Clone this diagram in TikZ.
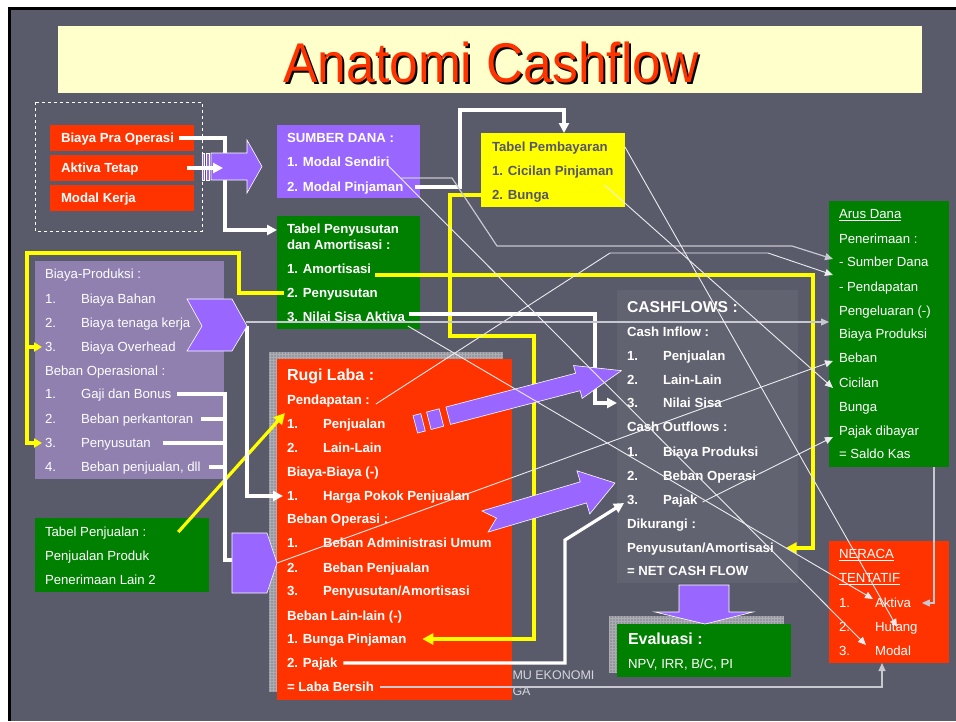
\documentclass[tikz,border=0pt]{standalone}
\usepackage{fontspec}
\setmainfont{Liberation Sans}
\usetikzlibrary{arrows.meta}

\definecolor{slidebg}{RGB}{89,90,106}
\definecolor{boxred}{RGB}{255,51,0}
\definecolor{boxpurple}{RGB}{153,102,255}
\definecolor{boxgreen}{RGB}{0,128,0}
\definecolor{boxyellow}{RGB}{255,255,0}
\definecolor{lavender}{RGB}{143,128,176}
\definecolor{titlefill}{RGB}{255,255,204}
\definecolor{cfbox}{RGB}{98,99,113}
\definecolor{pembtext}{RGB}{86,86,108}
\definecolor{framegray}{RGB}{150,150,158}
\definecolor{framegrid}{RGB}{172,172,180}
\definecolor{thinline}{RGB}{236,236,240}
\definecolor{greyline}{RGB}{200,200,208}
\definecolor{cftext}{RGB}{242,242,242}
\definecolor{footertext}{RGB}{214,214,222}

\newcommand{\cfTitleText}{\scalebox{0.92}[1]{\fontsize{56}{64}\selectfont Anatomi Cashflow}}

\tikzset{
  lbl/.style={anchor=west, inner sep=0pt, outer sep=0pt, text height=9.5pt, text depth=0.5pt,
              text=white, font=\fontsize{13.2}{15}\selectfont},
  blbl/.style={lbl, font=\fontsize{13.2}{15}\selectfont\bfseries},
  hlbl/.style={lbl, text height=11.5pt, text depth=0pt, font=\fontsize{16}{18}\selectfont\bfseries},
  panel/.style={anchor=north west, inner sep=0pt, outer sep=0pt},
  pshape/.style={fill=boxpurple, draw=white, line width=0.6pt},
  wline/.style={draw=white, line width=3.2pt},
  wlink/.style={wline, -{Triangle[length=10pt,width=10pt]}},
  yline/.style={draw=boxyellow, line width=3.2pt},
  ylink/.style={yline, -{Triangle[length=11pt,width=11pt]}},
  ylinks/.style={yline, -{Triangle[length=8pt,width=9pt]}},
  tlink/.style={draw=thinline, line width=0.9pt, -{Triangle[length=8pt,width=7pt]}},
  glink/.style={draw=greyline, line width=1.2pt, -{Triangle[length=8pt,width=7pt]}},
}

\begin{document}
\begin{tikzpicture}[x=1pt,y=-1pt]
\useasboundingbox (0,0) rectangle (956,721);

% slide background
\fill[white] (0,0) rectangle (956,721);
\fill[black] (8,7) rectangle (956,721);
\fill[slidebg] (11,10) rectangle (956,721);

% title bar
\fill[titlefill] (58,26) rectangle (922,93);
\node[anchor=base, inner sep=0pt, text=black] (titleShadow) at (493,84) {\cfTitleText};
\node[anchor=base, inner sep=0pt, text=boxred] (title) at (491,82) {\cfTitleText};

% investment group
\draw[white, line width=0.8pt, dash pattern=on 3pt off 3pt] (35,102) rectangle (202,231);
\node[panel, fill=boxred, minimum width=144pt, minimum height=26pt] (bpoBox) at (50,125) {};
\node[panel, fill=boxred, minimum width=144pt, minimum height=26pt] (atBox) at (50,155) {};
\node[panel, fill=boxred, minimum width=144pt, minimum height=26pt] (mkBox) at (50,185) {};
\node[blbl] (bpoT) at (61,138) {Biaya Pra Operasi};
\node[blbl] (atT) at (61,168) {Aktiva Tetap};
\node[blbl] (mkT) at (61,198) {Modal Kerja};

% sumber dana
\node[panel, fill=boxpurple, minimum width=143pt, minimum height=73pt] (sdBox) at (277,125) {};
\node[blbl] (sd0) at (287,138) {SUMBER DANA :};
\node[blbl] (sd1) at (287,162) {1. Modal Sendiri};
\node[blbl] (sd2) at (287,187) {2. Modal Pinjaman};

% tabel pembayaran
\node[panel, fill=boxyellow, minimum width=144pt, minimum height=74pt] (pbBox) at (481,133) {};
\node[blbl, text=pembtext] (pb0) at (492,147) {Tabel Pembayaran};
\node[blbl, text=pembtext] (pb1) at (492,171) {1. Cicilan Pinjaman};
\node[blbl, text=pembtext] (pb2) at (492,195) {2. Bunga};

% tabel penyusutan
\node[panel, fill=boxgreen, minimum width=143pt, minimum height=113pt] (tpBox) at (277,216) {};
\node[blbl] (tp0) at (287,229) {Tabel Penyusutan};
\node[blbl] (tp1) at (287,245) {dan Amortisasi :};
\node[blbl] (tp3) at (287,269) {1. Amortisasi};
\node[blbl] (tp4) at (287,293) {2. Penyusutan};
\node[blbl] (tp5) at (287,317) {3. Nilai Sisa Aktiva};

% biaya produksi / beban operasional
\node[panel, fill=lavender, minimum width=189pt, minimum height=218pt] (bpBox) at (35,261) {};
\node[lbl] (bp0) at (45,274) {Biaya-Produksi :};
\node[lbl] (bp1n) at (45,299) {1.};  \node[lbl] (bp1) at (81,299) {Biaya Bahan};
\node[lbl] (bp2n) at (45,323) {2.};  \node[lbl] (bp2) at (81,323) {Biaya tenaga kerja};
\node[lbl] (bp3n) at (45,347) {3.};  \node[lbl] (bp3) at (81,347) {Biaya Overhead};
\node[lbl] (bo0) at (45,371) {Beban Operasional :};
\node[lbl] (bo1n) at (45,394) {1.};  \node[lbl] (bo1) at (81,394) {Gaji dan Bonus};
\node[lbl] (bo2n) at (45,419) {2.};  \node[lbl] (bo2) at (81,419) {Beban perkantoran};
\node[lbl] (bo3n) at (45,443) {3.};  \node[lbl] (bo3) at (81,443) {Penyusutan};
\node[lbl] (bo4n) at (45,467) {4.};  \node[lbl] (bo4) at (81,467) {Beban penjualan, dll};

% tabel penjualan
\node[panel, fill=boxgreen, minimum width=174pt, minimum height=74pt] (tjBox) at (35,518) {};
\node[lbl] (tj0) at (45,532) {Tabel Penjualan :};
\node[lbl] (tj1) at (45,556) {Penjualan Produk};
\node[lbl] (tj2) at (45,580) {Penerimaan Lain 2};

% footer
\node[lbl, text=footertext, font=\fontsize{12.5}{14}\selectfont] (foot1) at (512.5,675) {MU EKONOMI};
\node[lbl, text=footertext, font=\fontsize{12.5}{14}\selectfont] (foot2) at (512.5,691) {GA};

% rugi laba
\fill[framegray] (269,352) rectangle (503,692);
\draw[framegrid, line width=0.4pt, step=3pt] (269,352) grid (503,692);
\node[panel, fill=boxred, minimum width=235pt, minimum height=341pt] (rlBox) at (277,359) {};
\node[hlbl] (rl0) at (287,375) {Rugi Laba :};
\node[blbl] (rl1) at (287,400) {Pendapatan :};
\node[blbl] (rl2n) at (287,424) {1.};  \node[blbl] (rl2) at (323,424) {Penjualan};
\node[blbl] (rl3n) at (287,448) {2.};  \node[blbl] (rl3) at (323,448) {Lain-Lain};
\node[blbl] (rl4) at (287,472) {Biaya-Biaya (-)};
\node[blbl] (rl5n) at (287,496) {1.};  \node[blbl] (rl5) at (323,496) {Harga Pokok Penjualan};
\node[blbl] (rl6) at (287,519) {Beban Operasi :};
\node[blbl] (rl7n) at (287,543) {1.};  \node[blbl] (rl7) at (323,543) {Beban Administrasi Umum};
\node[blbl] (rl8n) at (287,568) {2.};  \node[blbl] (rl8) at (323,568) {Beban Penjualan};
\node[blbl] (rl9n) at (287,591) {3.};  \node[blbl] (rl9) at (323,591) {Penyusutan/Amortisasi};
\node[blbl] (rl10) at (287,616) {Beban Lain-lain (-)};
\node[blbl] (rl11) at (287,639) {1. Bunga Pinjaman};
\node[blbl] (rl12) at (287,663) {2. Pajak};
\node[blbl] (rl13) at (287,687) {= Laba Bersih};

% cashflows
\node[panel, fill=cfbox, minimum width=181pt, minimum height=293pt] (cfBox) at (617,290) {};
\begin{scope}[every node/.append style={text=cftext}]
\node[hlbl, font=\fontsize{15.7}{18}\selectfont\bfseries] (cf0) at (627,307) {CASHFLOWS :};
\node[blbl] (cf1) at (627,332) {Cash Inflow :};
\node[blbl] (cf2n) at (627,356) {1.};  \node[blbl] (cf2) at (663,356) {Penjualan};
\node[blbl] (cf3n) at (627,380) {2.};  \node[blbl] (cf3) at (663,380) {Lain-Lain};
\node[blbl] (cf4n) at (627,403) {3.};  \node[blbl] (cf4) at (663,403) {Nilai Sisa};
\node[blbl] (cf5) at (627,427) {Cash Outflows :};
\node[blbl] (cf6n) at (627,452) {1.};  \node[blbl] (cf6) at (663,452) {Biaya Produksi};
\node[blbl] (cf7n) at (627,476) {2.};  \node[blbl] (cf7) at (663,476) {Beban Operasi};
\node[blbl] (cf8n) at (627,500) {3.};  \node[blbl] (cf8) at (663,500) {Pajak};
\node[blbl] (cf9) at (627,524) {Dikurangi :};
\node[blbl] (cf10) at (627,548) {Penyusutan/Amortisasi};
\node[blbl] (cf11) at (627,571) {= NET CASH FLOW};
\end{scope}

% arus dana
\node[panel, fill=boxgreen, minimum width=120pt, minimum height=266pt] (adBox) at (829,201) {};
\node[lbl] (ad0) at (839,214) {\underline{Arus Dana}};
\node[lbl] (ad1) at (839,239) {Penerimaan :};
\node[lbl] (ad2) at (839,262) {- Sumber Dana};
\node[lbl] (ad3) at (839,287) {- Pendapatan};
\node[lbl] (ad4) at (839,311) {Pengeluaran (-)};
\node[lbl] (ad5) at (839,334) {Biaya Produksi};
\node[lbl] (ad6) at (839,358) {Beban};
\node[lbl] (ad7) at (839,383) {Cicilan};
\node[lbl] (ad8) at (839,407) {Bunga};
\node[lbl] (ad9) at (839,431) {Pajak dibayar};
\node[lbl] (ad10) at (839,454) {= Saldo Kas};

% neraca tentatif
\node[panel, fill=boxred, minimum width=120pt, minimum height=122pt] (nrBox) at (829,541) {};
\node[lbl] (nr0) at (839,554) {\underline{NERACA}};
\node[lbl] (nr00) at (839,578) {\underline{TENTATIF}};
\node[lbl] (nr1n) at (839,603) {1.};  \node[lbl] (nr1) at (875,603) {Aktiva};
\node[lbl] (nr2n) at (839,627) {2.};  \node[lbl] (nr2) at (875,627) {Hutang};
\node[lbl] (nr3n) at (839,651) {3.};  \node[lbl] (nr3) at (875,651) {Modal};

% evaluasi
\fill[framegray] (609,616) rectangle (783,672);
\draw[framegrid, line width=0.4pt, step=3pt] (609,616) grid (783,672);
\node[panel, fill=boxgreen, minimum width=174pt, minimum height=53pt] (evBox) at (617,624) {};
\node[hlbl] (ev0) at (628,639) {Evaluasi :};
\node[lbl] (ev1) at (628,664) {NPV, IRR, B/C, PI};

% route points
\coordinate (w1) at (225,230);
\coordinate (w3) at (460,110);
\coordinate (w7) at (565,540);
\coordinate (brk) at (225,560);
\coordinate (pentL) at (233,560);
\coordinate (chevTip) at (247,326);
\coordinate (chevOut) at (246,322);
\coordinate (pentTip) at (277,563);
\coordinate (ya) at (239,253);
\coordinate (yb) at (27,253);
\coordinate (yc) at (450,336);
\coordinate (yd) at (534,336);
\coordinate (ye) at (813,275);
\coordinate (t1a) at (452,178);
\coordinate (t1b) at (497,246);
\coordinate (t1c) at (792,246);
\coordinate (t2a) at (610,253);
\coordinate (t2b) at (768,253);

% yellow links
\draw[ylinks] ([xshift=-3pt]tp4.west) -| (ya) -- (yb) |- ([xshift=-3pt]bo3n.west);
\draw[ylinks] (yb |- bp3n.west) -- ([xshift=-3pt]bp3n.west);
\draw[ylink] (pbBox.west |- pb2.west) -| (yc) -- (yd) |- ([xshift=16pt]rl11.east);
\draw[ylink] ([shift={(4pt,-6pt)}]tp3.east) -- (ye) |- ([xshift=12pt]cf10.east);
\draw[ylink] ([xshift=32pt]tj0.east) -- ([shift={(-2pt,11pt)}]rl2n.west);

% white links
\draw[wlink] ([xshift=5pt]bpoT.east) -| (w1) -- (tpBox.west |- w1);
\draw[wlink] ([xshift=12pt]sd2.east) -| (w3) -| ([xshift=11pt]pbBox.north);
\draw[wlink] (chevTip) |- ([xshift=-4pt]rl5n.west);
\draw[wline] ([xshift=6pt]bo1.east) -| (brk) -- (pentL);
\draw[wline] ([xshift=8pt]bo2.east) -- (brk |- bo2.east);
\draw[wline] ([xshift=12pt]bo3.east) -- (brk |- bo3.east);
\draw[wline] ([xshift=8pt]bo4.east) -- (brk |- bo4.east);
\draw[wlink] ([shift={(4pt,3pt)}]tp5.east) -| ([xshift=-32pt]cf4n.west) -- ([xshift=-10pt]cf4n.west);
\draw[wlink] ([xshift=6pt]rl12.east) -| (w7) -- ([shift={(-3pt,-3pt)}]cf8n.west);

% purple block shapes
\filldraw[pshape] (187,299) -- (232,299) -- (247,326) -- (232,351) -- (187,351) -- (202,326) -- cycle;
\filldraw[pshape] (232,533) -- (267,533) -- (277,563) -- (267,593) -- (232,593) -- cycle;
\filldraw[pshape] (202,153) rectangle (204.5,180);
\filldraw[pshape] (206.5,153) rectangle (209,180);
\filldraw[pshape] (211,153) -- (247,153) -- (247,140) -- (262,166.5) -- (247,193) -- (247,180) -- (211,180) -- cycle;
\begin{scope}[shift={(415.3,424.3)}, rotate=14.6]
  \filldraw[pshape] (0,-9) rectangle (8,9);
  \filldraw[pshape] (14,-9) rectangle (27,9);
  \filldraw[pshape] (34,-9) -- (168,-9) -- (168,-17) -- (213,0) -- (168,17) -- (168,9) -- (34,9) -- cycle;
\end{scope}
\begin{scope}[shift={(485,521.5)}, rotate=16.5]
  \filldraw[pshape] (0,-11) -- (102.6,-11) -- (102.6,-22.5) -- (135.6,0) -- (102.6,22.5) -- (102.6,11) -- (0,11) -- (12,0) -- cycle;
\end{scope}
\filldraw[pshape] (679,585) -- (729,585) -- (729,612) -- (753,612) -- (705,624) -- (655,612) -- (679,612) -- cycle;

\draw[wlink] ([xshift=-7pt]atBox.east) -- ([xshift=29pt]atBox.east);

% thin links
\draw[glink] ([shift={(-2pt,9pt)}]sd2.east) -- (t1a) -- (t1b) -- (t1c) -- ([shift={(-6pt,3pt)}]ad2.west);
\draw[tlink] ([shift={(6pt,-4pt)}]rl1.east) -- (t2a) -- (t2b) -- ([shift={(-6pt,12pt)}]ad3.west);
\draw[glink] (chevOut) -- (adBox.west |- chevOut);
\draw[tlink] (pentTip) -- ([shift={(-6pt,-3pt)}]ad6.west);
\draw[tlink] ([shift={(-9pt,-14pt)}]pb1.east) -- ([shift={(-6pt,-5pt)}]ad7.west);
\draw[tlink] ([shift={(5pt,-2pt)}]cf8.east) -- ([shift={(-6pt,-6pt)}]ad9.west);
\draw[tlink] ([shift={(3pt,-9pt)}]tp5.east) -- ([shift={(-2pt,4pt)}]nr1.west);
\draw[tlink] (pbBox.east |- pb0.west) -- ([xshift=22pt]nr2.west);
\draw[tlink] ([shift={(-2pt,-3pt)}]sd1.east) -- ([shift={(-9pt,6pt)}]nr3.west);
\draw[glink] ([xshift=6pt]rl13.east) -| ([xshift=-67pt]nrBox.south east);
\draw[glink] ([xshift=-15pt]adBox.south east) |- ([xshift=11pt]nr1.east);

\end{tikzpicture}
\end{document}
